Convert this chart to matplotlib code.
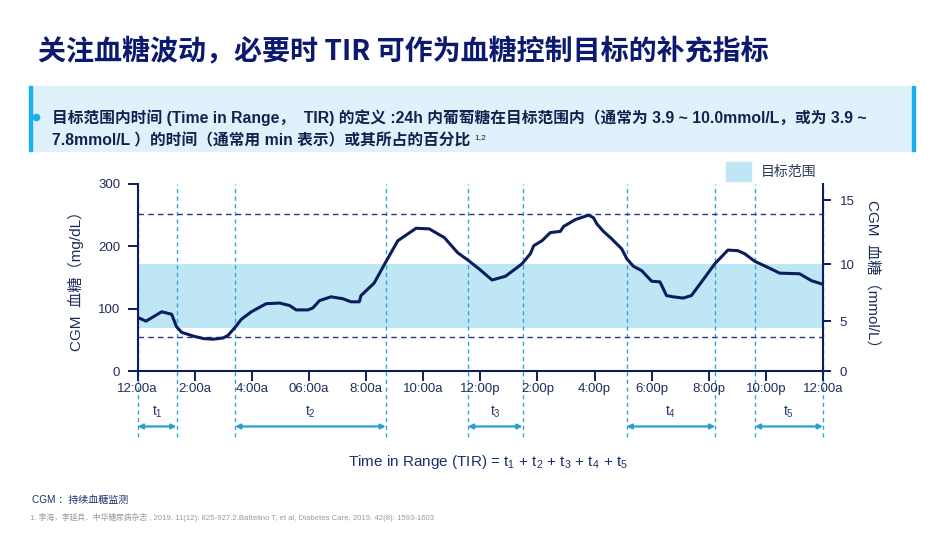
import matplotlib
matplotlib.use("Agg")
import matplotlib.pyplot as plt
from matplotlib.lines import Line2D
from matplotlib.patches import Rectangle

plt.rcParams["font.family"] = ["Noto Sans CJK SC", "DejaVu Sans"]
MIXED = ["Liberation Sans", "Noto Sans CJK SC"]

# data
hours = [0, 0.29, 0.84, 1.19, 1.36, 1.54, 1.95, 2.3, 2.64, 2.99, 3.16, 3.41, 3.63,
         3.98, 4.5, 4.97, 5.32, 5.55, 5.96, 6.13, 6.37, 6.77, 7.18, 7.47, 7.76, 7.82,
         8.28, 8.64, 9.11, 9.75, 10.21, 10.74, 11.2, 11.56, 11.95, 12.41, 12.88, 13.23,
         13.46, 13.75, 13.87, 14.16, 14.45, 14.8, 14.92, 15.33, 15.79, 15.96, 16.08,
         16.31, 16.6, 16.95, 17.13, 17.36, 17.65, 18.0, 18.29, 18.52, 18.75, 19.1,
         19.39, 19.86, 20.21, 20.67, 21.02, 21.26, 21.61, 22.08, 22.48, 23.18, 23.59,
         24.0]
glucose = [86, 80, 95, 91, 71, 62, 56, 52, 51, 53, 57, 70, 83, 95, 108, 109, 105, 98,
           98, 101, 113, 119, 116, 111, 111, 121, 141, 171, 209, 229, 228, 214, 190,
           178, 164, 146, 152, 164, 172, 188, 201, 209, 222, 224, 232, 243, 250, 246,
           236, 224, 212, 196, 180, 168, 161, 144, 143, 121, 119, 117, 121, 150, 172,
           194, 193, 188, 176, 166, 157, 156, 145, 139]

target_low, target_high = 69, 171
hypo_line, hyper_line = 55, 252

# time-in-range intervals (hours)
tir_start = [0, 3.41, 11.56, 17.12, 21.61]
tir_end = [1.36, 8.69, 13.48, 20.23, 24.0]
tir_names = ["1", "2", "3", "4", "5"]

x_ticks = list(range(0, 25, 2))
x_labels = ["12:00a", "2:00a", "4:00a", "06:00a", "8:00a", "10:00a", "12:00p",
            "2:00p", "4:00p", "6:00p", "8:00p", "10:00p", "12:00a"]
left_ticks = [0, 100, 200, 300]
right_tick_labels = ["0", "5", "10", "15"]
right_tick_pos = [0, 80, 171, 274]  # where the mmol/L ticks sit on the mg/dL scale

NAVY = "#0c1d5e"
TITLE = "#0b1a6e"
BAND = "#bfe6f4"
DASH_BLUE = "#35a6d2"
BRIGHT = "#1ab0f0"
W, H = 950, 535


def fx(px):
    return px / W


def fy(py):
    return 1 - py / H


fig = plt.figure(figsize=(9.5, 5.35), dpi=100)

# title
fig.text(fx(38), fy(52), "关注血糖波动，必要时 TIR 可作为血糖控制目标的补充指标",
         fontsize=20.2, weight="bold", color=TITLE, va="center")

# definition box
fig.patches.append(Rectangle((fx(29), fy(151)), fx(886), 65 / H,
                             transform=fig.transFigure, color="#dff1fa", zorder=0))
fig.patches.append(Rectangle((fx(29), fy(151)), fx(3), 65 / H,
                             transform=fig.transFigure, color=BRIGHT, zorder=1))
fig.patches.append(Rectangle((fx(912), fy(151)), fx(3), 65 / H,
                             transform=fig.transFigure, color=BRIGHT, zorder=1))
fig.add_artist(Line2D([fx(36)], [fy(117)], marker="o", ms=4.5, color=BRIGHT,
                      transform=fig.transFigure))
box_color = "#13214f"
fig.text(fx(52), fy(118),
         "目标范围内时间 (Time in Range，  TIR) 的定义 :24h 内葡萄糖在目标范围内（通常为 3.9 ~ 10.0mmol/L，或为 3.9 ~",
         fontsize=11.3, weight="bold", color=box_color, va="center", family=MIXED)
line2 = fig.text(fx(52), fy(141), "7.8mmol/L ）的时间（通常用 min 表示）或其所占的百分比",
                 fontsize=11.3, weight="bold", color=box_color, va="center", family=MIXED)

# chart
ax = fig.add_axes([fx(137.7), fy(371), fx(823 - 137.7), (371 - 184) / H])
ax.axhspan(target_low, target_high, color=BAND, lw=0, zorder=0.5)
ax.axhline(hyper_line, color="#243a78", lw=1, ls=(0, (4, 3)), zorder=1.5)
ax.axhline(hypo_line, color="#243a78", lw=1, ls=(0, (4, 3)), zorder=1.5)
ax.vlines(tir_start + tir_end, -106, 300, colors=DASH_BLUE, lw=1,
          linestyles=(0, (3, 2.5)), clip_on=False, zorder=1)
ax.plot(hours, glucose, color=NAVY, lw=2.2, solid_joinstyle="round", zorder=3)

for s, e, n in zip(tir_start, tir_end, tir_names):
    ax.annotate("", xy=(e, -89), xytext=(s, -89), annotation_clip=False,
                arrowprops=dict(arrowstyle="<|-|>", color="#2aa0cf", lw=1.6,
                                mutation_scale=7, shrinkA=0, shrinkB=0))
    ax.text((s + e) / 2, -66, "t$_{\\mathregular{%s}}$" % n, ha="center", va="center",
            fontsize=10, color="#2a3a6a", family="Liberation Sans", clip_on=False)

ax.set_xlim(0, 24)
ax.set_ylim(0, 300)
ax.set_xticks(x_ticks)
ax.set_xticklabels(x_labels, fontfamily="Liberation Sans")
ax.set_yticks(left_ticks)
ax.set_yticklabels([str(v) for v in left_ticks], fontfamily="Liberation Sans")
ax.tick_params(axis="x", length=7, width=1.4, color=NAVY, labelcolor="#1f2d5c",
               labelsize=9.5, pad=1.5)
ax.tick_params(axis="y", length=7, width=1.4, color=NAVY, labelcolor="#1f2d5c",
               labelsize=9.5, pad=5.5)
for side in ["top", "right"]:
    ax.spines[side].set_visible(False)
for side in ["left", "bottom"]:
    ax.spines[side].set_color(NAVY)
    ax.spines[side].set_linewidth(1.5)
ax.set_ylabel("CGM  血糖（mg/dL）", fontsize=11, color="#1f2d5c", labelpad=10,
              family=MIXED)

ax2 = ax.twinx()
ax2.set_ylim(0, 300)
ax2.set_yticks(right_tick_pos)
ax2.set_yticklabels(right_tick_labels, fontfamily="Liberation Sans")
ax2.tick_params(axis="y", length=6, width=1.4, color=NAVY, labelcolor="#1f2d5c",
                labelsize=9.5, pad=6)
for side in ["top", "left", "bottom"]:
    ax2.spines[side].set_visible(False)
ax2.spines["right"].set_color(NAVY)
ax2.spines["right"].set_linewidth(1.5)
ax2.set_ylabel("CGM  血糖（mmol/L）", fontsize=11, color="#1f2d5c", rotation=270,
               labelpad=18, family=MIXED)

# legend
fig.patches.append(Rectangle((fx(726), fy(181)), fx(24.5), 19 / H,
                             transform=fig.transFigure, color=BAND))
fig.text(fx(761), fy(172), "目标范围", fontsize=10, color="#2a3a5a", va="center")

fig.text(fx(488), fy(462),
         "Time in Range (TIR) = t$_{\\mathregular{1}}$ + t$_{\\mathregular{2}}$ + "
         "t$_{\\mathregular{3}}$ + t$_{\\mathregular{4}}$ + t$_{\\mathregular{5}}$",
         fontsize=11, color="#1f2d6c", ha="center", va="center", family="Liberation Sans")

# footnotes
fig.text(fx(32), fy(500), "CGM ：持续血糖监测", fontsize=7.2, color="#1f2d6c", va="center",
         family=MIXED)
fig.text(fx(30), fy(517),
         "1. 李海，李延兵．中华糖尿病杂志 , 2019. 11(12): 825-927.2.Battelino T, et al, "
         "Diabetes Care, 2019. 42(8): 1593-1603",
         fontsize=5.6, color="#9a9a9a", va="center", family=MIXED)

fig.canvas.draw()
bb = line2.get_window_extent()
fig.text(bb.x1 / W + fx(4), fy(138), "1,2", fontsize=6, color=box_color, va="center",
         family="Liberation Sans")

fig.savefig("out.png", dpi=100)
